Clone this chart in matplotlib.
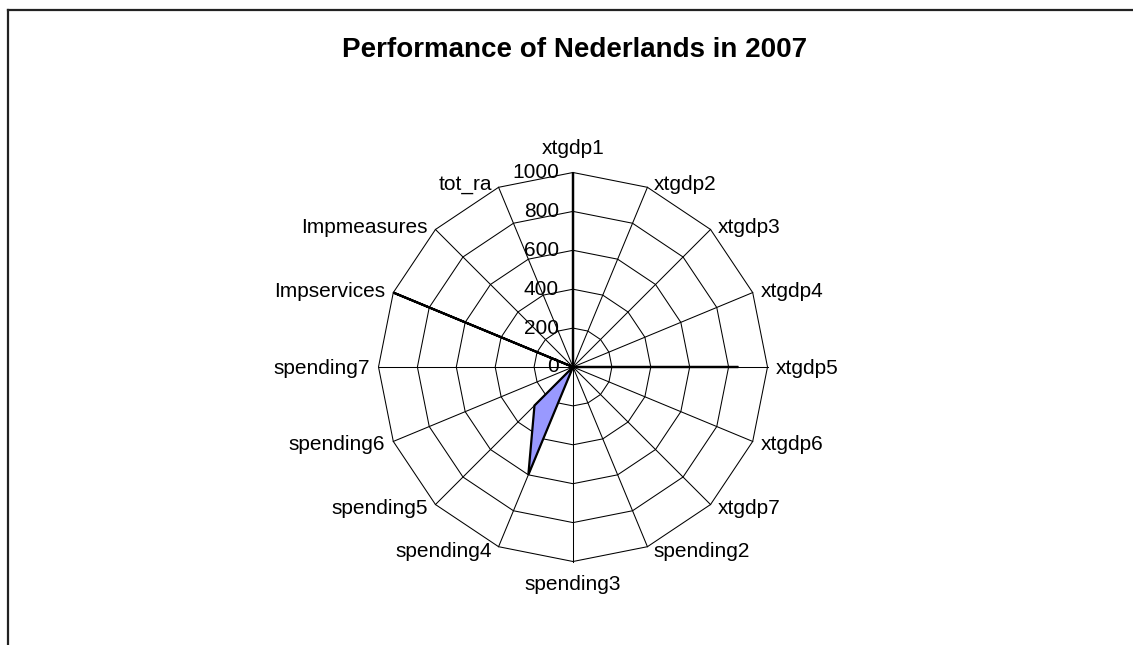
import numpy as np
import matplotlib
matplotlib.use("Agg")
import matplotlib.pyplot as plt
from matplotlib.lines import Line2D
from matplotlib.transforms import offset_copy

plt.rcParams['font.family'] = ['Liberation Sans', 'DejaVu Sans']

# data
categories = ["xtgdp1", "xtgdp2", "xtgdp3", "xtgdp4", "xtgdp5", "xtgdp6", "xtgdp7",
              "spending2", "spending3", "spending4", "spending5", "spending6",
              "spending7", "Impservices", "Impmeasures", "tot_ra"]
values = [1000, 0, 0, 0, 850, 0, 0, 0, 0, 600, 280, 0, 0, 1000, 0, 0]
ring_levels = [200, 400, 600, 800, 1000]
tick_levels = [0, 200, 400, 600, 800, 1000]
title = "Performance of Nederlands in 2007"

W, H = 1133, 645
fig = plt.figure(figsize=(W / 100, H / 100), dpi=100)
fig.patch.set_facecolor("white")

# outer chart frame (only top and left edges are visible in the crop)
fig.add_artist(Line2D([8 / W, 8 / W], [0, 1 - 10 / H], color="#222222", lw=1.6))
fig.add_artist(Line2D([8 / W, 1], [1 - 10 / H, 1 - 10 / H], color="#222222", lw=1.6))

fig.text(575 / W, 1 - 50 / H, title, ha="center", va="center",
         fontsize=20, fontweight="bold")

# polar axes, centre at (573, 367) px, radius ~194.5 px
cx, cy, rad = 573, 367, 194.5
ax = fig.add_axes([(cx - rad) / W, (H - cy - rad) / H, 2 * rad / W, 2 * rad / H],
                  projection="polar")
ax.set_theta_zero_location("N")
ax.set_theta_direction(-1)
ax.set_ylim(0, 1000)
ax.grid(False)
ax.set_xticks([])
ax.set_yticks([])
ax.spines["polar"].set_visible(False)

n = len(categories)
angles = np.arange(n) * 2 * np.pi / n
closed = np.append(angles, angles[0])

# polygon web
for lev in ring_levels:
    ax.plot(closed, [lev] * (n + 1), color="black", lw=0.75, clip_on=False, zorder=1)
for a in angles:
    ax.plot([a, a], [0, ring_levels[-1]], color="black", lw=0.75, clip_on=False, zorder=1)

# data series
vals = np.append(values, values[0])
ax.fill(closed, vals, facecolor="#9999FF", edgecolor="black", lw=1.6,
        clip_on=False, zorder=3)

# value labels along the top spoke
tick_tr = offset_copy(ax.transData, fig=fig, x=-14, y=0, units="dots")
for lev in tick_levels:
    ax.text(0, lev, str(lev), transform=tick_tr, ha="right", va="center",
            fontsize=15, zorder=4)

# category labels, placed just outside each outer vertex
for a, name in zip(angles, categories):
    s, c = np.sin(a), np.cos(a)
    if abs(s) < 0.01:
        ha = "center"
        va = "bottom" if c > 0 else "top"
        dx, dy = 0, 14 * c
    else:
        ha = "left" if s > 0 else "right"
        va = "center"
        dx = np.sign(s) * (5 + 3.5 * abs(s))
        dy = 4.5 * c - 1
    tr = offset_copy(ax.transData, fig=fig, x=dx, y=dy, units="dots")
    ax.text(a, 1000, name, transform=tr, ha=ha, va=va, fontsize=15)

fig.savefig("out.png", dpi=100)
